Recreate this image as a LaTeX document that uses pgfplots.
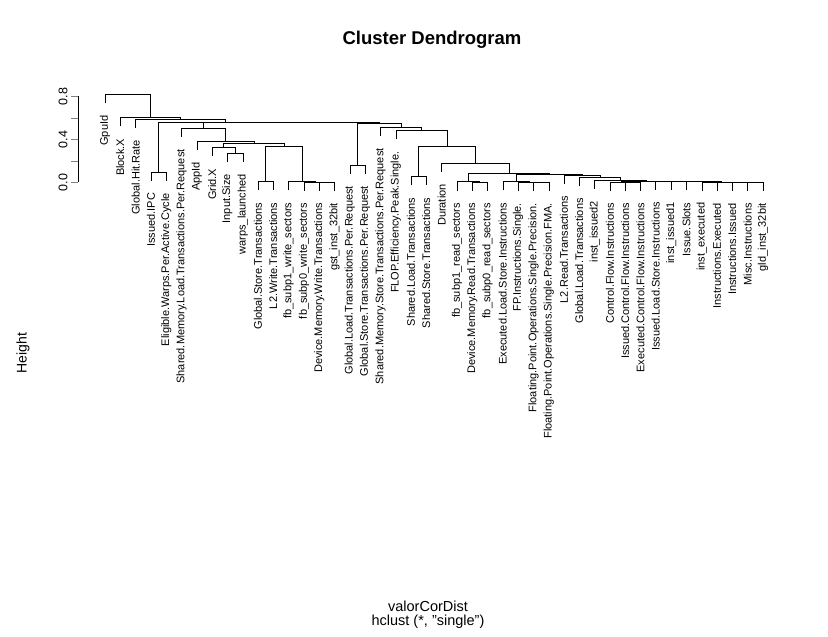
\documentclass[border=0pt]{standalone}
\usepackage{fontspec}
\setmainfont{Liberation Sans}
\usepackage{pgfplots}
\pgfplotsset{compat=1.18}
\begin{document}
\begin{tikzpicture}[x=1bp,y=1bp,
  lbl/.style={rotate=90, anchor=east, inner sep=0pt, font=\fontsize{11bp}{13bp}\selectfont}]
\path[use as bounding box] (0,0) rectangle (828,637);
\begin{axis}[
  at={(78bp,454.5bp)}, anchor=south west,
  scale only axis, width=684.9bp, height=86bp,
  xmin=-0.7647, xmax=44, ymin=0, ymax=0.8,
  clip=false,
  axis y line*=left, axis x line=none,
  ytick={0,0.2,0.4,0.6,0.8},
  yticklabels={0.0,,0.4,,0.8},
  tick align=outside, major tick length=7bp,
  yticklabel style={rotate=90, anchor=south, font=\fontsize{12.5bp}{14bp}\selectfont},
  cycle list={{black, solid, line width=0.8bp, mark=none}},
  no markers,
]
\addplot coordinates {(4,0.016) (4,0.098) (5,0.098) (5,0.016)};
\addplot coordinates {(9,0.190) (9,0.272) (10,0.272) (10,0.190)};
\addplot coordinates {(8,0.242) (8,0.324) (9.5,0.324) (9.5,0.272)};
\addplot coordinates {(11,-0.074) (11,0.008) (12,0.008) (12,-0.074)};
\addplot coordinates {(15,-0.077) (15,0.005) (16,0.005) (16,-0.077)};
\addplot coordinates {(14,-0.076) (14,0.006) (15.5,0.006) (15.5,0.005)};
\addplot coordinates {(13,-0.074) (13,0.008) (14.75,0.008) (14.75,0.006)};
\addplot coordinates {(11.5,0.008) (11.5,0.333) (13.875,0.333) (13.875,0.008)};
\addplot coordinates {(8.75,0.324) (8.75,0.365) (12.6875,0.365) (12.6875,0.333)};
\addplot coordinates {(7,0.304) (7,0.386) (10.71875,0.386) (10.71875,0.365)};
\addplot coordinates {(6,0.422) (6,0.504) (8.859,0.504) (8.859,0.386)};
\addplot coordinates {(17,0.081) (17,0.163) (18,0.163) (18,0.081)};
\addplot coordinates {(21,-0.028) (21,0.054) (22,0.054) (22,-0.028)};
\addplot coordinates {(25,-0.079) (25,0.003) (26,0.003) (26,-0.079)};
\addplot coordinates {(24,-0.076) (24,0.006) (25.5,0.006) (25.5,0.003)};
\addplot coordinates {(29,-0.079) (29,0.003) (30,0.003) (30,-0.079)};
\addplot coordinates {(28,-0.077) (28,0.005) (29.5,0.005) (29.5,0.003)};
\addplot coordinates {(27,-0.074) (27,0.008) (28.75,0.008) (28.75,0.005)};
\addplot coordinates {(35,-0.078) (35,0.004) (36,0.004) (36,-0.078)};
\addplot coordinates {(34,-0.076) (34,0.006) (35.5,0.006) (35.5,0.004)};
\addplot coordinates {(41,-0.079) (41,0.003) (42,0.003) (42,-0.079)};
\addplot coordinates {(43,-0.080) (43,0.002) (44,0.002) (44,-0.080)};
\addplot coordinates {(41.5,0.003) (41.5,0.005) (43.5,0.005) (43.5,0.002)};
\addplot coordinates {(40,-0.075) (40,0.007) (42.5,0.007) (42.5,0.005)};
\addplot coordinates {(39,-0.073) (39,0.009) (41.25,0.009) (41.25,0.007)};
\addplot coordinates {(38,-0.071) (38,0.011) (40.125,0.011) (40.125,0.009)};
\addplot coordinates {(37,-0.069) (37,0.013) (39.0625,0.013) (39.0625,0.011)};
\addplot coordinates {(34.75,0.006) (34.75,0.016) (38.031,0.016) (38.031,0.013)};
\addplot coordinates {(33,-0.059) (33,0.023) (36.391,0.023) (36.391,0.016)};
\addplot coordinates {(32,-0.034) (32,0.048) (34.695,0.048) (34.695,0.023)};
\addplot coordinates {(31,-0.012) (31,0.070) (33.348,0.070) (33.348,0.048)};
\addplot coordinates {(27.875,0.008) (27.875,0.078) (32.174,0.078) (32.174,0.070)};
\addplot coordinates {(24.75,0.006) (24.75,0.091) (30.025,0.091) (30.025,0.078)};
\addplot coordinates {(23,0.097) (23,0.179) (27.388,0.179) (27.388,0.091)};
\addplot coordinates {(21.5,0.054) (21.5,0.337) (25.194,0.337) (25.194,0.179)};
\addplot coordinates {(20,0.400) (20,0.482) (23.347,0.482) (23.347,0.337)};
\addplot coordinates {(19,0.431) (19,0.513) (21.674,0.513) (21.674,0.482)};
\addplot coordinates {(17.5,0.163) (17.5,0.551) (20.337,0.551) (20.337,0.513)};
\addplot coordinates {(7.430,0.504) (7.430,0.555) (18.919,0.555) (18.919,0.551)};
\addplot coordinates {(4.5,0.098) (4.5,0.560) (13.175,0.560) (13.175,0.555)};
\addplot coordinates {(3,0.508) (3,0.590) (8.838,0.590) (8.838,0.560)};
\addplot coordinates {(2,0.521) (2,0.603) (5.919,0.603) (5.919,0.590)};
\addplot coordinates {(1,0.735) (1,0.817) (3.960,0.817) (3.960,0.603)};
\node[lbl] at ([yshift=-12bp]axis cs:1,0.735) {GpuId};
\node[lbl] at ([yshift=-12bp]axis cs:2,0.521) {Block.X};
\node[lbl] at ([yshift=-12bp]axis cs:3,0.508) {Global.Hit.Rate};
\node[lbl] at ([yshift=-12bp]axis cs:4,0.016) {Issued.IPC};
\node[lbl] at ([yshift=-12bp]axis cs:5,0.016) {Eligible.Warps.Per.Active.Cycle};
\node[lbl] at ([yshift=-12bp]axis cs:6,0.422) {Shared.Memory.Load.Transactions.Per.Request};
\node[lbl] at ([yshift=-12bp]axis cs:7,0.304) {AppId};
\node[lbl] at ([yshift=-12bp]axis cs:8,0.242) {Grid.X};
\node[lbl] at ([yshift=-12bp]axis cs:9,0.190) {Input.Size};
\node[lbl] at ([yshift=-12bp]axis cs:10,0.190) {warps\_launched};
\node[lbl] at ([yshift=-12bp]axis cs:11,-0.074) {Global.Store.Transactions};
\node[lbl] at ([yshift=-12bp]axis cs:12,-0.074) {L2.Write.Transactions};
\node[lbl] at ([yshift=-12bp]axis cs:13,-0.074) {fb\_subp1\_write\_sectors};
\node[lbl] at ([yshift=-12bp]axis cs:14,-0.076) {fb\_subp0\_write\_sectors};
\node[lbl] at ([yshift=-12bp]axis cs:15,-0.077) {Device.Memory.Write.Transactions};
\node[lbl] at ([yshift=-12bp]axis cs:16,-0.077) {gst\_inst\_32bit};
\node[lbl] at ([yshift=-12bp]axis cs:17,0.081) {Global.Load.Transactions.Per.Request};
\node[lbl] at ([yshift=-12bp]axis cs:18,0.081) {Global.Store.Transactions.Per.Request};
\node[lbl] at ([yshift=-12bp]axis cs:19,0.431) {Shared.Memory.Store.Transactions.Per.Request};
\node[lbl] at ([yshift=-12bp]axis cs:20,0.400) {FLOP.Efficiency.Peak.Single.};
\node[lbl] at ([yshift=-12bp]axis cs:21,-0.028) {Shared.Load.Transactions};
\node[lbl] at ([yshift=-12bp]axis cs:22,-0.028) {Shared.Store.Transactions};
\node[lbl] at ([yshift=-12bp]axis cs:23,0.097) {Duration};
\node[lbl] at ([yshift=-12bp]axis cs:24,-0.076) {fb\_subp1\_read\_sectors};
\node[lbl] at ([yshift=-12bp]axis cs:25,-0.079) {Device.Memory.Read.Transactions};
\node[lbl] at ([yshift=-12bp]axis cs:26,-0.079) {fb\_subp0\_read\_sectors};
\node[lbl] at ([yshift=-12bp]axis cs:27,-0.074) {Executed.Load.Store.Instructions};
\node[lbl] at ([yshift=-12bp]axis cs:28,-0.077) {FP.Instructions.Single.};
\node[lbl] at ([yshift=-12bp]axis cs:29,-0.079) {Floating.Point.Operations.Single.Precision.};
\node[lbl] at ([yshift=-12bp]axis cs:30,-0.079) {Floating.Point.Operations.Single.Precision.FMA.};
\node[lbl] at ([yshift=-12bp]axis cs:31,-0.012) {L2.Read.Transactions};
\node[lbl] at ([yshift=-12bp]axis cs:32,-0.034) {Global.Load.Transactions};
\node[lbl] at ([yshift=-12bp]axis cs:33,-0.059) {inst\_issued2};
\node[lbl] at ([yshift=-12bp]axis cs:34,-0.076) {Control.Flow.Instructions};
\node[lbl] at ([yshift=-12bp]axis cs:35,-0.078) {Issued.Control.Flow.Instructions};
\node[lbl] at ([yshift=-12bp]axis cs:36,-0.078) {Executed.Control.Flow.Instructions};
\node[lbl] at ([yshift=-12bp]axis cs:37,-0.069) {Issued.Load.Store.Instructions};
\node[lbl] at ([yshift=-12bp]axis cs:38,-0.071) {inst\_issued1};
\node[lbl] at ([yshift=-12bp]axis cs:39,-0.073) {Issue.Slots};
\node[lbl] at ([yshift=-12bp]axis cs:40,-0.075) {inst\_executed};
\node[lbl] at ([yshift=-12bp]axis cs:41,-0.079) {Instructions.Executed};
\node[lbl] at ([yshift=-12bp]axis cs:42,-0.079) {Instructions.Issued};
\node[lbl] at ([yshift=-12bp]axis cs:43,-0.080) {Misc.Instructions};
\node[lbl] at ([yshift=-12bp]axis cs:44,-0.080) {gld\_inst\_32bit};
\end{axis}
\node[font=\bfseries\fontsize{18.5bp}{20bp}\selectfont] at (432,597) {Cluster Dendrogram};
\node[rotate=90, font=\fontsize{14bp}{16bp}\selectfont] at (23,284) {Height};
\node[font=\fontsize{14.5bp}{16bp}\selectfont] at (428,31) {valorCorDist};
\node[font=\fontsize{14.5bp}{16bp}\selectfont] at (428,15) {hclust (*, "single")};
\end{tikzpicture}
\end{document}
